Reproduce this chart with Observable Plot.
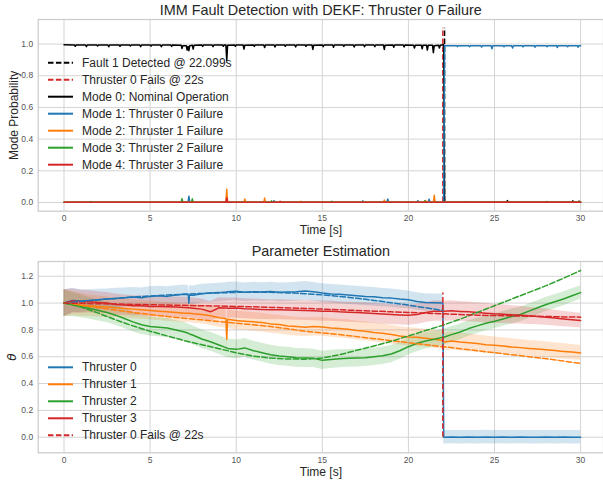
<!DOCTYPE html>
<html><head><meta charset="utf-8">
<script src="https://cdn.jsdelivr.net/npm/d3@7"></script>
<script src="https://cdn.jsdelivr.net/npm/@observablehq/plot@0.6"></script>
<style>
html,body{margin:0;padding:0;background:#fff;}
#wrap{position:relative;width:603px;height:483px;overflow:hidden;font-family:"Liberation Sans",Arial,sans-serif;}
#top,#bot{position:absolute;left:0;}
#top{top:0;} #bot{top:240px;}
svg.legend{position:absolute;left:0;top:0;pointer-events:none;}
</style></head><body>
<div id="wrap"><div id="top"></div><div id="bot"></div><svg class="legend" width="603" height="483"></svg></div>
<script>
// ---------- text ----------
const topTitle = "IMM Fault Detection with DEKF: Thruster 0 Failure";
const botTitle = "Parameter Estimation";
const xLabel = "Time [s]";
const yLabelTop = "Mode Probability";
const yLabelBot = "θ";
const modeLabels = ["Mode 0: Nominal Operation","Mode 1: Thruster 0 Failure","Mode 2: Thruster 1 Failure","Mode 3: Thruster 2 Failure","Mode 4: Thruster 3 Failure"];
const detectLabel = "Fault 1 Detected @ 22.099s";
const failLabel = "Thruster 0 Fails @ 22s";
const thrusterLabels = ["Thruster 0","Thruster 1","Thruster 2","Thruster 3"];

// ---------- ticks ----------
const xTicks = [0,5,10,15,20,25,30];
const yTicksTop = [0,0.2,0.4,0.6,0.8,1.0];
const yTicksBot = [0,0.2,0.4,0.6,0.8,1.0,1.2];

// ---------- events ----------
const failTime = 22;
const detectTime = 22.099;
const vlineTopMax = 1.1;
const vlineBotMax = 1.075;

// ---------- top: mode probabilities [t, p] ----------
const mode0 = [[0,0.995],[0.6,0.994],[0.65,0.986],[0.7,0.994],[1.25,0.994],[1.3,0.984],[1.35,0.994],[1.9,0.994],[1.95,0.988],[2.0,0.994],[2.55,0.994],[2.6,0.983],[2.65,0.994],[3.2,0.994],[3.25,0.986],[3.3,0.994],[3.8,0.994],[3.85,0.988],[3.9,0.994],[4.4,0.994],[4.45,0.984],[4.5,0.994],[5.0,0.994],[5.05,0.987],[5.1,0.994],[5.6,0.994],[5.65,0.983],[5.7,0.994],[6.2,0.994],[6.25,0.985],[6.3,0.994],[6.8,0.993],[6.85,0.972],[6.9,0.99],[7.1,0.99],[7.15,0.962],[7.2,0.985],[7.25,0.958],[7.3,0.99],[7.45,0.992],[7.5,0.968],[7.55,0.993],[8.0,0.994],[8.05,0.985],[8.1,0.994],[8.6,0.994],[8.65,0.984],[8.7,0.994],[9.2,0.994],[9.25,0.986],[9.3,0.994],[9.4,0.994],[9.45,0.896],[9.5,0.993],[9.9,0.994],[9.95,0.986],[10.0,0.994],[10.4,0.994],[10.45,0.968],[10.5,0.993],[11.0,0.994],[11.05,0.985],[11.1,0.994],[11.6,0.994],[11.65,0.978],[11.7,0.994],[12.2,0.994],[12.25,0.981],[12.3,0.994],[12.8,0.994],[12.85,0.986],[12.9,0.994],[13.4,0.994],[13.45,0.982],[13.5,0.994],[14.0,0.994],[14.05,0.985],[14.1,0.994],[14.4,0.994],[14.45,0.966],[14.5,0.993],[15.0,0.994],[15.05,0.984],[15.1,0.994],[15.6,0.994],[15.65,0.98],[15.7,0.994],[16.2,0.994],[16.25,0.985],[16.3,0.994],[16.8,0.994],[16.85,0.981],[16.9,0.994],[17.4,0.994],[17.45,0.983],[17.5,0.994],[18.0,0.994],[18.05,0.984],[18.1,0.994],[18.55,0.994],[18.6,0.966],[18.65,0.993],[19.1,0.994],[19.15,0.98],[19.2,0.994],[19.7,0.994],[19.75,0.982],[19.8,0.994],[20.3,0.993],[20.35,0.975],[20.4,0.993],[20.75,0.993],[20.8,0.97],[20.85,0.993],[21.05,0.993],[21.1,0.962],[21.15,0.992],[21.4,0.992],[21.45,0.945],[21.5,0.99],[21.75,0.992],[21.8,0.975],[21.85,0.992],[22.05,0.995],[22.1,0.003],[22.5,0.002],[23.3,0.002],[23.35,0.005],[23.4,0.002],[25.7,0.002],[25.75,0.012],[25.8,0.004],[25.85,0.002],[28.0,0.002],[28.05,0.006],[28.1,0.002],[29.5,0.002],[29.55,0.01],[29.6,0.003],[29.85,0.002],[29.9,0.008],[30,0.003]];
const mode1 = [[0,0.001],[7.2,0.001],[7.25,0.04],[7.3,0.001],[12.15,0.001],[12.2,0.012],[12.25,0.001],[17.3,0.001],[17.35,0.01],[17.4,0.001],[18.75,0.001],[18.8,0.022],[18.85,0.001],[20.5,0.001],[20.55,0.012],[20.6,0.001],[21.15,0.001],[21.2,0.02],[21.25,0.001],[22.05,0.002],[22.1,0.99],[22.8,0.99],[22.85,0.984],[22.9,0.99],[23.5,0.99],[23.55,0.983],[23.6,0.99],[24.2,0.99],[24.25,0.981],[24.3,0.99],[24.8,0.99],[24.85,0.97],[24.9,0.99],[25.5,0.99],[25.55,0.983],[25.6,0.99],[26.0,0.99],[26.05,0.975],[26.1,0.99],[26.6,0.99],[26.65,0.982],[26.7,0.99],[27.3,0.99],[27.35,0.98],[27.4,0.99],[28.0,0.99],[28.05,0.983],[28.1,0.99],[28.6,0.99],[28.65,0.978],[28.7,0.99],[29.2,0.99],[29.25,0.983],[29.3,0.99],[29.8,0.99],[29.85,0.98],[29.9,0.99],[30,0.99]];
const mode2 = [[0,0.001],[6.2,0.001],[6.25,0.005],[6.3,0.001],[9.4,0.001],[9.45,0.084],[9.5,0.001],[10.45,0.001],[10.5,0.022],[10.55,0.001],[11.6,0.001],[11.65,0.028],[11.7,0.001],[13.7,0.001],[13.75,0.007],[13.8,0.001],[18.55,0.001],[18.6,0.016],[18.65,0.001],[20.95,0.001],[21.0,0.013],[21.05,0.001],[21.45,0.001],[21.5,0.045],[21.55,0.001],[22.1,0.001],[30,0.001]];
const mode3 = [[0,0.001],[1.5,0.001],[1.55,0.006],[1.6,0.001],[6.8,0.001],[6.85,0.024],[6.9,0.001],[7.4,0.001],[7.45,0.023],[7.5,0.001],[12.0,0.001],[12.05,0.01],[12.1,0.001],[15.5,0.001],[15.55,0.008],[15.6,0.001],[20.9,0.001],[20.95,0.01],[21.0,0.001],[30,0.001]];
const mode4 = [[0,0.001],[9.4,0.001],[9.45,0.03],[9.5,0.001],[12.5,0.001],[12.55,0.008],[12.6,0.001],[30,0.001]];

// ---------- bottom: estimates on a shared time grid ----------
const tEst = [0,0.5,1,1.5,2,2.5,3,3.5,4,4.5,
  5,5.5,6,6.5,7,7.22,7.25,7.28,7.5,8,
  8.5,9,9.4,9.45,9.5,10,10.5,11,11.5,12,
  12.5,13,13.5,14,14.5,15,15.5,16,16.5,17,
  17.5,18,18.5,19,19.5,20,20.5,21,21.5,22,
  22.05,22.5,23,23.5,24,24.5,25,25.5,26,26.5,
  27,27.5,28,28.5,29,29.5,30];
const est0 = [1.0,1.02,1.015,1.02,1.025,1.03,1.035,1.04,1.045,1.04,
  1.05,1.055,1.05,1.06,1.065,1.062,1.0,1.06,1.058,1.07,
  1.075,1.078,1.082,1.083,1.085,1.088,1.08,1.085,1.082,1.086,
  1.08,1.082,1.085,1.09,1.084,1.075,1.068,1.065,1.06,1.055,
  1.05,1.047,1.04,1.037,1.03,1.025,1.012,1.005,1.002,1.0,
  0.0,0.001,0.0,0.001,0.0,0.002,0.0,0.001,0.0,0.001,
  0.0,0.0,0.001,0.0,0.001,0.0,0.0];
const est1 = [1.0,0.995,0.985,0.98,0.975,0.97,0.965,0.96,0.955,0.95,
  0.945,0.94,0.935,0.93,0.925,0.925,0.924,0.925,0.92,0.915,
  0.905,0.89,0.885,0.73,0.88,0.87,0.865,0.86,0.855,0.845,
  0.84,0.83,0.825,0.82,0.825,0.822,0.815,0.81,0.805,0.795,
  0.79,0.78,0.775,0.765,0.755,0.748,0.745,0.738,0.73,0.722,
  0.71,0.718,0.71,0.705,0.698,0.69,0.685,0.68,0.672,0.668,
  0.662,0.657,0.652,0.646,0.64,0.635,0.628];
const est2 = [1.0,0.99,0.975,0.96,0.945,0.93,0.91,0.885,0.86,0.838,
  0.826,0.82,0.815,0.8,0.785,0.775,0.772,0.77,0.76,0.732,
  0.712,0.688,0.668,0.665,0.662,0.655,0.666,0.645,0.63,0.615,
  0.605,0.6,0.592,0.59,0.588,0.573,0.58,0.585,0.588,0.59,
  0.593,0.6,0.607,0.62,0.645,0.675,0.7,0.718,0.73,0.745,
  0.745,0.765,0.785,0.81,0.83,0.85,0.865,0.882,0.9,0.915,
  0.94,0.965,0.99,1.01,1.03,1.055,1.078];
const est3 = [1.0,1.015,1.01,1.01,1.005,1.0,0.99,0.985,0.98,0.98,
  0.975,0.975,0.972,0.97,0.968,0.966,0.965,0.965,0.962,0.955,
  0.935,0.965,0.963,0.963,0.962,0.963,0.958,0.955,0.952,0.95,
  0.95,0.948,0.947,0.945,0.943,0.94,0.94,0.935,0.932,0.93,
  0.927,0.922,0.918,0.915,0.912,0.91,0.915,0.93,0.94,0.94,
  0.94,0.942,0.938,0.935,0.93,0.925,0.92,0.917,0.913,0.91,
  0.905,0.9,0.895,0.888,0.882,0.876,0.87];
// half-width of the shaded confidence band
const band0 = [0.1,0.09,0.085,0.08,0.078,0.075,0.075,0.073,0.072,0.072,
  0.072,0.071,0.071,0.07,0.07,0.07,0.07,0.07,0.07,0.07,
  0.07,0.07,0.07,0.07,0.07,0.07,0.07,0.07,0.07,0.07,
  0.07,0.07,0.07,0.07,0.07,0.07,0.07,0.07,0.07,0.07,
  0.07,0.07,0.068,0.068,0.068,0.066,0.065,0.065,0.065,0.065,
  0.05,0.05,0.05,0.05,0.05,0.05,0.05,0.05,0.05,0.05,
  0.05,0.05,0.05,0.05,0.05,0.05,0.05];
const band1 = [0.1,0.09,0.085,0.08,0.078,0.075,0.073,0.072,0.07,0.07,
  0.07,0.07,0.07,0.07,0.07,0.07,0.07,0.07,0.07,0.07,
  0.07,0.07,0.07,0.07,0.07,0.07,0.07,0.07,0.07,0.07,
  0.07,0.07,0.07,0.07,0.07,0.07,0.07,0.07,0.07,0.07,
  0.07,0.07,0.07,0.07,0.068,0.068,0.068,0.067,0.067,0.067,
  0.066,0.066,0.065,0.065,0.064,0.064,0.063,0.062,0.062,0.061,
  0.06,0.06,0.059,0.058,0.058,0.057,0.056];
const band2 = [0.1,0.09,0.085,0.08,0.078,0.076,0.075,0.074,0.073,0.072,
  0.072,0.071,0.071,0.07,0.07,0.07,0.07,0.07,0.07,0.07,
  0.07,0.07,0.07,0.07,0.07,0.07,0.07,0.07,0.07,0.07,
  0.07,0.07,0.07,0.07,0.068,0.068,0.068,0.067,0.066,0.066,
  0.065,0.065,0.064,0.064,0.063,0.062,0.062,0.061,0.06,0.06,
  0.06,0.059,0.058,0.058,0.057,0.056,0.056,0.055,0.055,0.054,
  0.054,0.053,0.053,0.052,0.052,0.051,0.05];
const band3 = [0.1,0.09,0.085,0.082,0.08,0.078,0.077,0.076,0.075,0.075,
  0.075,0.075,0.075,0.075,0.075,0.075,0.075,0.075,0.075,0.075,
  0.075,0.075,0.075,0.075,0.075,0.075,0.075,0.075,0.075,0.075,
  0.075,0.075,0.075,0.075,0.075,0.075,0.075,0.075,0.075,0.075,
  0.075,0.075,0.075,0.075,0.075,0.075,0.075,0.075,0.075,0.075,
  0.075,0.075,0.074,0.074,0.073,0.073,0.072,0.07,0.068,0.066,
  0.064,0.062,0.06,0.059,0.058,0.056,0.055];

// true parameter values (dashed), 1 s grid
const tTrue = [0,1,2,3,4,5,6,7,8,9,10,11,12,13,14,15,16,17,18,19,20,21,22,23,24,25,26,27,28,29,30];
const true0 = [1.0,1.012,1.025,1.035,1.045,1.053,1.06,1.066,1.072,1.076,1.08,1.081,1.08,1.076,1.07,1.061,1.05,1.036,1.02,1.003,0.985,0.965,0.945,null,null,null,null,null,null,null,null];
const true1 = [1.0,0.982,0.965,0.948,0.93,0.915,0.9,0.887,0.875,0.862,0.85,0.838,0.825,0.808,0.79,0.778,0.765,0.75,0.735,0.72,0.705,0.69,0.675,0.66,0.645,0.63,0.615,0.6,0.585,0.568,0.55];
const true2 = [1.0,0.97,0.925,0.875,0.83,0.79,0.755,0.72,0.69,0.66,0.63,0.605,0.59,0.583,0.582,0.59,0.615,0.648,0.68,0.715,0.755,0.795,0.835,0.88,0.93,0.98,1.03,1.08,1.13,1.185,1.243];
const true3 = [1.0,0.998,0.995,0.993,0.99,0.988,0.985,0.983,0.98,0.978,0.975,0.972,0.968,0.964,0.96,0.955,0.95,0.945,0.94,0.935,0.93,0.925,0.92,0.915,0.91,0.907,0.905,0.902,0.9,0.897,0.895];

// ---------- styling ----------
const colors = ["#1f77b4","#ff7f0e","#2ca02c","#d62728"];
const black = "#000000";
const dash = "5.5,2.4";
const gridColor = "#d4d4d4";
const textColor = "#262626";
const tickColor = "#555555";
const font = "'Liberation Sans', Arial, sans-serif";

const common = (ticksY) => [
  Plot.gridX(xTicks, {stroke: gridColor, strokeOpacity: 1, strokeWidth: 1}),
  Plot.gridY(ticksY, {stroke: gridColor, strokeOpacity: 1, strokeWidth: 1}),
  Plot.frame({stroke: "#cccccc", strokeWidth: 1.25})
];
const axes = (ticksY, title, yLab, titleDy, yItalic) => [
  Plot.axisX(xTicks, {tickSize: 0, tickPadding: 4, tickFormat: d => String(d), fontSize: 8.5, fill: tickColor, label: null}),
  Plot.axisY(ticksY, {tickSize: 0, tickPadding: 5, tickFormat: d3.format(".1f"), fontSize: 8.5, fill: tickColor, label: null}),
  Plot.text([title], {text: d => d, frameAnchor: "top", dy: titleDy, lineAnchor: "middle", fontSize: 14.4, fill: textColor}),
  Plot.text([xLabel], {text: d => d, frameAnchor: "bottom", dy: 19, lineAnchor: "middle", fontSize: 12, fill: textColor}),
  Plot.text([yLab], {text: d => d, frameAnchor: "left", dx: yItalic ? -26 : -24, rotate: -90, textAnchor: "middle", lineAnchor: "middle", fontSize: 12, fill: textColor, fontStyle: yItalic ? "italic" : "normal", fontFamily: yItalic ? "DejaVu Sans" : font})
];

// ---------- top chart ----------
const modes = [mode0, mode1, mode2, mode3, mode4];
const modeColors = [black, ...colors];
const topPlot = Plot.plot({
  width: 603, height: 240,
  marginLeft: 37.7, marginRight: 0, marginTop: 19, marginBottom: 29.3,
  x: {domain: [-1.5, 31.33]},
  y: {domain: [-0.055, 1.155]},
  style: {fontFamily: font, background: "transparent", overflow: "visible"},
  marks: [
    ...common(yTicksTop),
    Plot.ruleX([detectTime], {x: d => d, y1: () => 0, y2: () => vlineTopMax, stroke: black, strokeWidth: 1.5, strokeDasharray: dash}),
    Plot.ruleX([failTime], {x: d => d, y1: () => 0, y2: () => vlineTopMax, stroke: colors[3], strokeWidth: 1.5, strokeDasharray: dash}),
    ...modes.map((m, i) => Plot.line(m, {x: d => d[0], y: d => d[1], stroke: modeColors[i], strokeWidth: 1.5})),
    ...axes(yTicksTop, topTitle, yLabelTop, -9, false)
  ]
});
document.getElementById("top").appendChild(topPlot);

// ---------- bottom chart ----------
const ests = [est0, est1, est2, est3];
const bands = [band0, band1, band2, band3];
const trues = [true0, true1, true2, true3];
const estRows = ests.map((e, k) => tEst.map((t, i) => ({t, est: e[i], lo: e[i] - bands[k][i], hi: e[i] + bands[k][i]})));
const trueRows = trues.map(v => tTrue.map((t, i) => ({t, v: v[i]})));

const botPlot = Plot.plot({
  width: 603, height: 243,
  marginLeft: 37.7, marginRight: 0, marginTop: 21, marginBottom: 30.7,
  x: {domain: [-1.5, 31.33]},
  y: {domain: [-0.116, 1.31]},
  style: {fontFamily: font, background: "transparent", overflow: "visible"},
  marks: [
    ...common(yTicksBot),
    ...estRows.map((rows, k) => Plot.areaY(rows, {x: "t", y1: "lo", y2: "hi", fill: colors[k], fillOpacity: 0.2, curve: "linear"})),
    ...estRows.map((rows, k) => Plot.line(rows, {x: "t", y: "est", stroke: colors[k], strokeWidth: 1.5})),
    ...trueRows.map((rows, k) => Plot.line(rows, {x: "t", y: "v", stroke: colors[k], strokeWidth: 1.5, strokeDasharray: dash})),
    Plot.ruleX([failTime], {x: d => d, y1: () => 0, y2: () => vlineBotMax, stroke: colors[3], strokeWidth: 1.5, strokeDasharray: dash}),
    ...axes(yTicksBot, botTitle, yLabelBot, -10.3, true)
  ]
});
document.getElementById("bot").appendChild(botPlot);

// ---------- legends ----------
const leg = d3.select("svg.legend");
function drawLegend(entries, y0) {
  entries.forEach((e, i) => {
    const y = y0 + i * 17;
    leg.append("line").attr("x1", 48).attr("x2", 73).attr("y1", y).attr("y2", y)
      .attr("stroke", e.color).attr("stroke-width", 2).attr("stroke-dasharray", e.dashed ? "5.5,2.4" : null);
    leg.append("text").attr("x", 82).attr("y", y).attr("dominant-baseline", "central")
      .attr("font-family", font).attr("font-size", 12).attr("fill", textColor).text(e.label);
  });
}
drawLegend([
  {label: detectLabel, color: black, dashed: true},
  {label: failLabel, color: colors[3], dashed: true},
  ...modeLabels.map((l, i) => ({label: l, color: modeColors[i]}))
], 62.7);
drawLegend([
  ...thrusterLabels.map((l, i) => ({label: l, color: colors[i]})),
  {label: failLabel, color: colors[3], dashed: true}
], 240 + 127.3);
</script></body></html>
